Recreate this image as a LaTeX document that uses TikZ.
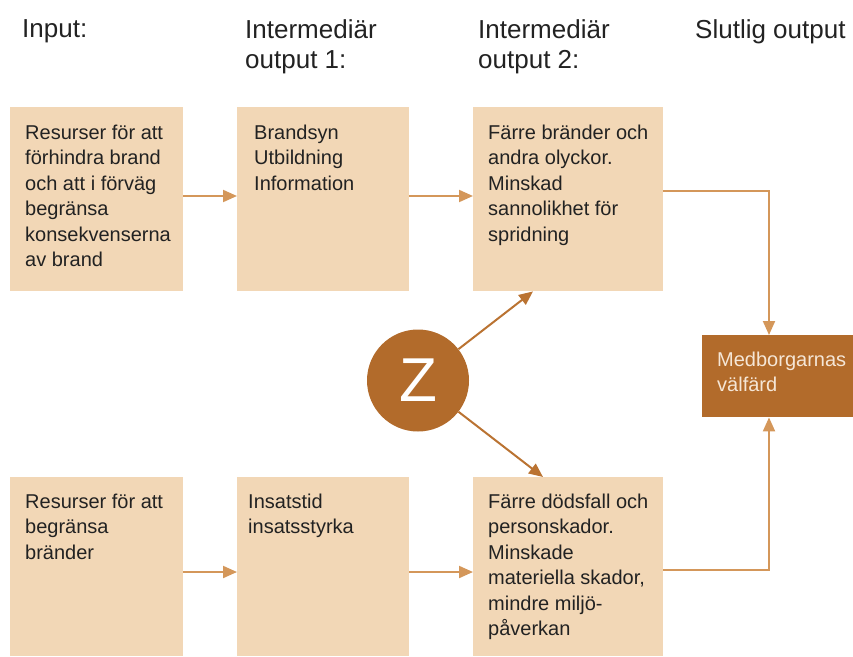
\documentclass[tikz,border=0pt]{standalone}
\usepackage{fontspec}
\setmainfont{Liberation Sans}
\usetikzlibrary{arrows.meta,calc}
\definecolor{boxfill}{HTML}{F2D7B6}
\definecolor{arrowc}{HTML}{D4975A}
\definecolor{zarrowc}{HTML}{BA7332}
\definecolor{darkb}{HTML}{B26B2B}
\definecolor{lighttxt}{HTML}{F5E6D6}
\definecolor{txt}{HTML}{222222}
\tikzset{
  box/.style={rectangle, fill=boxfill, draw=none, anchor=north west, inner sep=0pt},
  txtnode/.style={anchor=north west, inner sep=0pt, align=left, text=txt,
    font=\fontsize{20}{25.5}\selectfont},
  head/.style={anchor=north west, inner sep=0pt, align=left, text=txt,
    font=\fontsize{26}{30}\selectfont},
  arr/.style={draw=arrowc, line width=2pt, -{Triangle[length=14pt,width=12pt]}},
  zarr/.style={arr, draw=zarrowc},
}
\begin{document}
\begin{tikzpicture}[x=1pt,y=-1pt]
\useasboundingbox (0,0) rectangle (853,656);
% headers
\node[head] (h1) at (22,19.4) {Input:};
\node[head] (h2) at (245,19.4) {Intermediär\\output 1:};
\node[head] (h3) at (478,19.4) {Intermediär\\output 2:};
\node[head] (h4) at (695,19.4) {Slutlig output};
% boxes
\node[box, minimum width=173pt, minimum height=184pt] (b1) at (10,107) {};
\node[box, minimum width=172pt, minimum height=184pt] (b2) at (237,107) {};
\node[box, minimum width=190pt, minimum height=184pt] (b3) at (473,107) {};
\node[box, minimum width=173pt, minimum height=179pt] (b4) at (10,477) {};
\node[box, minimum width=172pt, minimum height=179pt] (b5) at (237,477) {};
\node[box, minimum width=190pt, minimum height=179pt] (b6) at (473,477) {};
\node[box, fill=darkb, minimum width=151pt, minimum height=82pt] (med) at (702,335) {};
% texts
\node[txtnode] (t1) at ($(b1.north west)+(15,17.5)$) {Resurser för att\\förhindra brand\\och att i förväg\\begränsa\\konsekvenserna\\av brand};
\node[txtnode] (t2) at ($(b2.north west)+(17,17.5)$) {Brandsyn\\Utbildning\\Information};
\node[txtnode] (t3) at ($(b3.north west)+(15,17.5)$) {Färre bränder och\\andra olyckor.\\Minskad\\sannolikhet för\\spridning};
\node[txtnode] (t4) at ($(b4.north west)+(15,16.5)$) {Resurser för att\\begränsa\\bränder};
\node[txtnode] (t5) at ($(b5.north west)+(11,16.5)$) {Insatstid\\insatsstyrka};
\node[txtnode] (t6) at ($(b6.north west)+(15,16.5)$) {Färre dödsfall och\\personskador.\\Minskade\\materiella skador,\\mindre miljö-\\påverkan};
\node[txtnode, text=lighttxt] (t7) at ($(med.north west)+(15,16.5)$) {Medborgarnas\\välfärd};
% Z
\node[circle, fill=darkb, minimum size=102pt, inner sep=0pt, text=white,
  font=\fontsize{62}{62}\selectfont] (Z) at (418,380.5) {Z};
% connectors
\draw[arr] ($(b1.north east)+(0,89)$) -- ($(b2.north west)+(0,89)$);
\draw[arr] ($(b2.north east)+(0,89)$) -- ($(b3.north west)+(0,89)$);
\draw[arr] ($(b4.north east)+(0,95)$) -- ($(b5.north west)+(0,95)$);
\draw[arr] ($(b5.north east)+(0,95)$) -- ($(b6.north west)+(0,95)$);
\coordinate (zt) at ($(b3.south west)+(60,0)$);
\coordinate (zb) at ($(b6.north west)+(70,0)$);
\draw[zarr] (Z) -- (zt);
\draw[zarr] (Z) -- (zb);
\coordinate (mt) at ($(med.north west)+(67,0)$);
\coordinate (mb) at ($(med.south west)+(67,0)$);
\draw[arr] ($(b3.north east)+(0,84)$) -| (mt);
\draw[arr] ($(b6.north east)+(0,93)$) -| (mb);
\end{tikzpicture}
\end{document}
